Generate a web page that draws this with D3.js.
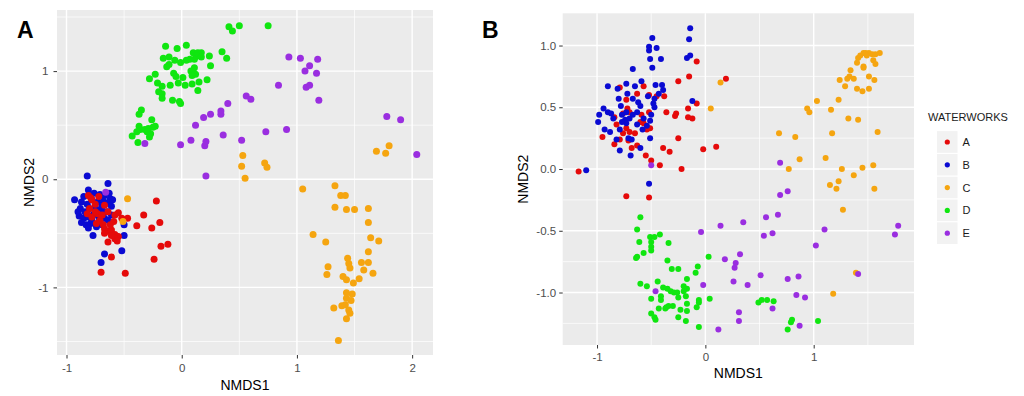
<!DOCTYPE html>
<html>
<head>
<meta charset="utf-8">
<title>NMDS by waterworks</title>
<script src="https://cdn.jsdelivr.net/npm/d3@7"></script>
<style>
  body { margin: 0; background: #fff; }
  svg { display: block; font-family: "Liberation Sans", Arial, sans-serif; }
  .tick text { fill: #4d4d4d; font-size: 11.5px; }
  .tick line { stroke: #333; }
  .domain { display: none; }
</style>
</head>
<body>
<svg id="chart" width="1024" height="396"></svg>
<script>
const waterworks = ["A", "B", "C", "D", "E"];
const colours = ["#e50a0a", "#0a0ad2", "#f5a510", "#10e610", "#9a2ee0"];

// panel A: [NMDS1, NMDS2] per waterworks
const aGroupA = [[-0.81,-0.15],[-0.78,-0.19],[-0.75,-0.23],[-0.80,-0.27],[-0.82,-0.32],[-0.78,-0.35],[-0.73,-0.32],[-0.71,-0.38],[-0.68,-0.42],[-0.67,-0.46],[-0.64,-0.48],[-0.61,-0.47],[-0.58,-0.51],[-0.55,-0.53],[-0.58,-0.55],[-0.56,-0.57],[-0.64,-0.58],[-0.62,-0.42],[-0.59,-0.39],[-0.55,-0.31],[-0.58,-0.33],[-0.64,-0.30],[-0.69,-0.33],[-0.75,-0.30],[-0.79,-0.17],[-0.72,-0.16],[-0.67,-0.24],[-0.74,-0.41],[-0.67,-0.50],[-0.61,-0.52],[-0.52,-0.36],[-0.47,-0.36],[-0.22,-0.20],[-0.33,-0.33],[-0.39,-0.43],[-0.26,-0.45],[-0.19,-0.40],[-0.18,-0.62],[-0.12,-0.60],[-0.24,-0.74],[-0.70,-0.86],[-0.49,-0.87],[-0.61,-0.72]];
const aGroupB = [[-0.82,0.03],[-0.64,-0.04],[-0.93,-0.19],[-0.50,-0.42],[-0.50,-0.52],[-0.52,-0.66],[-0.67,-0.69],[-0.70,-0.77],[-0.77,-0.52],[-0.81,-0.10],[-0.76,-0.13],[-0.71,-0.14],[-0.67,-0.15],[-0.62,-0.18],[-0.87,-0.21],[-0.82,-0.23],[-0.78,-0.19],[-0.73,-0.21],[-0.68,-0.20],[-0.64,-0.22],[-0.61,-0.25],[-0.88,-0.27],[-0.84,-0.30],[-0.80,-0.27],[-0.75,-0.26],[-0.70,-0.28],[-0.65,-0.30],[-0.61,-0.33],[-0.89,-0.34],[-0.85,-0.36],[-0.81,-0.35],[-0.77,-0.33],[-0.72,-0.35],[-0.67,-0.36],[-0.87,-0.40],[-0.83,-0.42],[-0.79,-0.41],[-0.74,-0.44],[-0.69,-0.42],[-0.64,-0.38],[-0.81,-0.45],[-0.85,-0.16],[-0.69,-0.25],[-0.78,-0.38],[-0.90,-0.30],[-0.63,-0.13],[-0.60,-0.19]];
const aGroupC = [[0.53,0.22],[0.52,0.12],[0.55,0.01],[0.72,0.15],[0.74,0.11],[1.69,0.26],[1.77,0.24],[1.80,0.31],[1.05,-0.09],[1.33,-0.06],[1.38,-0.15],[1.42,-0.15],[1.33,-0.26],[1.43,-0.28],[1.50,-0.28],[1.62,-0.27],[1.62,-0.40],[1.14,-0.51],[1.25,-0.58],[1.64,-0.54],[1.71,-0.57],[1.62,-0.67],[1.27,-0.81],[1.26,-0.88],[1.44,-0.73],[1.45,-0.78],[1.46,-0.82],[1.56,-0.77],[1.62,-0.77],[1.58,-0.84],[1.66,-0.87],[1.40,-0.90],[1.43,-0.93],[1.49,-0.96],[1.54,-0.92],[1.43,-1.05],[1.48,-1.06],[1.43,-1.10],[1.47,-1.12],[1.32,-1.19],[1.39,-1.17],[1.42,-1.16],[1.45,-1.21],[1.46,-1.24],[1.43,-1.29],[1.36,-1.49],[-0.47,-0.18],[-0.51,-0.39]];
const aGroupD = [[0.41,1.41],[0.44,1.37],[0.50,1.42],[0.75,1.42],[-0.14,1.23],[0.04,1.24],[-0.04,1.21],[0.10,1.17],[0.14,1.17],[0.17,1.17],[0.13,1.14],[0.17,1.13],[0.11,1.11],[0.07,1.11],[0.04,1.10],[-0.01,1.08],[-0.06,1.10],[-0.11,1.13],[-0.16,1.12],[0.24,1.14],[0.35,1.18],[0.39,1.12],[0.25,1.05],[0.11,1.03],[0.08,1.00],[-0.11,1.06],[-0.13,1.04],[-0.07,0.98],[-0.05,0.95],[0.01,0.94],[0.12,0.97],[0.09,0.96],[-0.23,0.97],[-0.28,0.93],[-0.21,0.89],[-0.10,0.87],[-0.03,0.89],[0.03,0.87],[0.09,0.88],[0.15,0.90],[0.22,0.92],[-0.17,0.86],[-0.20,0.81],[-0.17,0.79],[-0.17,0.75],[0.14,0.82],[-0.08,0.73],[-0.02,0.72],[-0.01,0.70],[-0.35,0.64],[-0.37,0.60],[-0.26,0.55],[-0.37,0.49],[-0.36,0.46],[-0.32,0.46],[-0.29,0.47],[-0.25,0.48],[-0.23,0.49],[-0.39,0.44],[-0.43,0.40],[-0.28,0.39],[-0.38,0.34],[-0.30,0.44],[-0.27,0.42]];
const aGroupE = [[-0.32,0.33],[-0.01,0.32],[0.08,0.36],[0.12,0.50],[0.19,0.57],[0.25,0.60],[0.20,0.31],[0.21,0.35],[0.34,0.63],[0.34,0.60],[0.36,0.41],[0.40,0.70],[0.52,0.36],[0.56,0.77],[0.60,0.74],[0.73,0.44],[0.84,0.87],[0.91,0.46],[0.93,1.13],[1.03,1.12],[1.07,1.00],[1.11,1.05],[1.18,1.11],[1.17,0.98],[1.08,0.85],[1.11,0.87],[1.19,0.73],[1.78,0.58],[1.90,0.55],[2.04,0.23],[0.21,0.03],[-0.66,-0.12]];

// panel B
const bGroupA = [[-0.08,0.87],[-0.15,0.75],[-0.25,0.71],[-0.57,0.67],[-0.79,0.66],[-0.63,0.61],[-0.52,0.60],[-0.45,0.59],[-0.38,0.59],[-0.84,0.42],[-0.76,0.45],[-0.72,0.49],[-0.73,0.56],[-0.59,0.44],[-0.52,0.46],[-0.57,0.37],[-0.60,0.38],[-0.51,0.33],[-0.54,0.32],[-0.73,0.33],[-0.76,0.29],[-0.70,0.30],[-0.82,0.36],[-0.79,0.24],[-0.71,0.23],[-0.95,0.26],[-0.84,0.20],[-0.63,0.19],[-0.68,0.17],[-0.55,0.11],[-0.50,0.07],[-0.42,0.03],[-0.39,0.17],[-0.33,0.14],[-0.25,0.25],[-0.36,0.46],[-0.28,0.43],[-0.27,0.45],[-0.16,0.42],[-0.12,0.41],[-0.08,0.53],[-0.16,0.49],[-0.02,0.16],[0.10,0.18],[-0.22,0.00],[-1.17,-0.02],[-0.73,-0.22],[-0.52,-0.23],[-0.70,0.46],[-0.65,0.29],[0.19,0.73]];
const bGroupB = [[-0.14,1.14],[-0.15,1.05],[-0.49,1.06],[-0.52,0.99],[-0.45,0.98],[-0.52,0.96],[-0.51,0.89],[-0.41,0.89],[-0.49,0.82],[-0.17,0.90],[-0.14,0.92],[-0.67,0.81],[-0.90,0.67],[-0.81,0.65],[-0.73,0.69],[-0.65,0.67],[-0.59,0.71],[-0.46,0.68],[-0.40,0.68],[-0.39,0.64],[-0.80,0.57],[-0.72,0.61],[-0.67,0.57],[-0.62,0.54],[-0.53,0.59],[-0.47,0.57],[-0.43,0.61],[-0.48,0.53],[-0.47,0.50],[-0.78,0.51],[-0.94,0.49],[-0.90,0.46],[-0.87,0.45],[-0.98,0.44],[-0.99,0.38],[-0.85,0.41],[-0.77,0.44],[-0.74,0.40],[-0.73,0.37],[-0.70,0.41],[-0.63,0.36],[-0.58,0.32],[-0.54,0.35],[-0.51,0.39],[-0.50,0.44],[-0.57,0.41],[-0.93,0.32],[-0.88,0.30],[-0.79,0.32],[-0.82,0.24],[-0.71,0.25],[-0.68,0.24],[-0.51,0.25],[-0.79,0.15],[-0.60,0.17],[-0.69,0.11],[-0.12,0.55],[-1.10,-0.01],[-0.52,-0.12],[-0.73,0.46],[-0.77,0.38],[-0.63,0.46],[-0.60,0.51],[-0.67,0.44]];
const bGroupC = [[1.41,0.90],[1.43,0.92],[1.46,0.94],[1.48,0.94],[1.51,0.94],[1.54,0.93],[1.57,0.93],[1.61,0.94],[1.55,0.88],[1.57,0.85],[1.46,0.83],[1.46,0.82],[1.34,0.80],[1.33,0.75],[1.31,0.73],[1.37,0.73],[1.24,0.72],[1.29,0.67],[1.51,0.75],[1.56,0.72],[1.40,0.65],[1.45,0.63],[1.51,0.65],[1.03,0.55],[1.23,0.56],[0.94,0.49],[0.96,0.46],[1.16,0.48],[1.32,0.41],[1.41,0.40],[0.68,0.29],[0.83,0.26],[1.17,0.29],[1.59,0.30],[0.87,0.08],[1.11,0.09],[0.77,0.00],[1.26,0.00],[1.45,0.01],[1.55,0.03],[1.37,-0.05],[1.15,-0.13],[1.23,-0.10],[1.21,-0.16],[1.56,-0.16],[1.27,-0.33],[1.39,-0.84],[1.18,-1.01],[0.05,0.49],[0.14,0.70],[1.40,0.86],[1.49,0.92]];
const bGroupD = [[-0.60,-0.39],[-0.63,-0.49],[-0.61,-0.59],[-0.64,-0.72],[-0.63,-0.71],[-0.57,-0.68],[-0.51,-0.55],[-0.47,-0.55],[-0.42,-0.53],[-0.50,-0.59],[-0.50,-0.63],[-0.50,-0.66],[-0.34,-0.60],[-0.35,-0.74],[-0.31,-0.81],[-0.25,-0.81],[-0.07,-0.79],[-0.09,-0.84],[0.03,-0.71],[-0.17,-0.89],[-0.44,-0.91],[-0.60,-0.93],[-0.54,-0.95],[-0.39,-0.96],[-0.35,-0.97],[-0.29,-1.00],[-0.32,-0.99],[-0.26,-1.00],[-0.25,-1.04],[-0.20,-0.95],[-0.17,-0.97],[-0.20,-0.99],[-0.18,-1.03],[-0.50,-1.05],[-0.41,-1.03],[-0.41,-1.06],[-0.17,-1.09],[-0.06,-1.06],[-0.06,-1.08],[0.04,-1.05],[-0.08,-1.12],[-0.43,-1.13],[-0.37,-1.13],[-0.34,-1.11],[-0.30,-1.11],[-0.23,-1.14],[-0.17,-1.15],[-0.50,-1.17],[-0.47,-1.20],[-0.46,-1.22],[-0.25,-1.20],[-0.18,-1.23],[-0.06,-1.28],[0.49,-1.08],[0.52,-1.06],[0.57,-1.06],[0.63,-1.07],[0.80,-1.22],[0.79,-1.24],[0.76,-1.30],[1.04,-1.23],[-0.36,-1.12]];
const bGroupE = [[-0.04,-0.51],[0.14,-0.46],[0.35,-0.43],[0.56,-0.39],[0.67,-0.37],[0.54,-0.54],[0.62,-0.52],[1.02,-0.62],[0.18,-0.73],[0.32,-0.69],[0.28,-0.76],[0.27,-0.80],[0.51,-0.86],[0.26,-0.91],[0.39,-0.94],[0.76,-0.89],[0.86,-0.87],[-0.02,-0.94],[-0.46,-0.99],[0.84,-1.02],[0.92,-1.04],[0.62,-1.13],[0.31,-1.16],[0.31,-1.23],[0.12,-1.30],[0.87,-1.27],[0.69,0.05],[0.69,-0.21],[0.76,-0.18],[1.10,-0.49],[1.78,-0.46],[1.75,-0.53],[1.41,-0.85],[-0.50,0.03]];

const aXTicks = [-1, 0, 1, 2];
const aYTicks = [-1, 0, 1];
const bXTicks = [-1, 0, 1];
const bYTicks = [-1, -0.5, 0, 0.5, 1];

const svg = d3.select("#chart");

function drawPanel(p) {
  const x = d3.scaleLinear().domain(p.xDomain).range([p.left, p.right]);
  const y = d3.scaleLinear().domain(p.yDomain).range([p.bottom, p.top]);
  const g = svg.append("g");

  g.append("rect")
    .attr("x", p.left).attr("y", p.top)
    .attr("width", p.right - p.left).attr("height", p.bottom - p.top)
    .attr("fill", "#ebebeb");

  // grid: minor then major
  g.selectAll(".xminor").data(p.xMinor).join("line")
    .attr("x1", d => x(d)).attr("x2", d => x(d))
    .attr("y1", p.top).attr("y2", p.bottom)
    .attr("stroke", "#fff").attr("stroke-width", 0.7);
  g.selectAll(".yminor").data(p.yMinor).join("line")
    .attr("y1", d => y(d)).attr("y2", d => y(d))
    .attr("x1", p.left).attr("x2", p.right)
    .attr("stroke", "#fff").attr("stroke-width", 0.7);
  g.selectAll(".xmajor").data(p.xTicks).join("line")
    .attr("x1", d => x(d)).attr("x2", d => x(d))
    .attr("y1", p.top).attr("y2", p.bottom)
    .attr("stroke", "#fff").attr("stroke-width", 1.4);
  g.selectAll(".ymajor").data(p.yTicks).join("line")
    .attr("y1", d => y(d)).attr("y2", d => y(d))
    .attr("x1", p.left).attr("x2", p.right)
    .attr("stroke", "#fff").attr("stroke-width", 1.4);

  p.order.forEach(i => {
    g.append("g").selectAll("circle").data(p.groups[i]).join("circle")
      .attr("cx", d => x(d[0]))
      .attr("cy", d => y(d[1]))
      .attr("r", p.r)
      .attr("fill", colours[i]);
  });

  g.append("g")
    .attr("transform", `translate(0,${p.bottom})`)
    .call(d3.axisBottom(x).tickValues(p.xTicks).tickSize(3.5)
      .tickPadding(p.xPad).tickFormat(p.fmtX));
  g.append("g")
    .attr("transform", `translate(${p.left},0)`)
    .call(d3.axisLeft(y).tickValues(p.yTicks).tickSize(3.5)
      .tickPadding(p.yPad).tickFormat(p.fmtY));

  g.append("text")
    .attr("x", (p.left + p.right) / 2).attr("y", p.xTitleY)
    .attr("text-anchor", "middle").attr("font-size", 14)
    .text("NMDS1");
  g.append("text")
    .attr("transform", `translate(${p.yTitleX},${(p.top + p.bottom) / 2}) rotate(-90)`)
    .attr("text-anchor", "middle").attr("font-size", 14)
    .text("NMDS2");

  g.append("text")
    .attr("x", p.tagX).attr("y", 38)
    .attr("font-size", 23).attr("font-weight", "bold")
    .text(p.tag);
}

drawPanel({
  tag: "A", tagX: 17,
  groups: [aGroupA, aGroupB, aGroupC, aGroupD, aGroupE],
  order: [1, 0, 2, 3, 4],
  left: 57, right: 433, top: 10, bottom: 355,
  xDomain: [-1.0825, 2.181], yDomain: [-1.625, 1.565],
  xTicks: aXTicks, yTicks: aYTicks,
  xMinor: [-0.5, 0.5, 1.5], yMinor: [-1.5, -0.5, 0.5, 1.5],
  fmtX: d => String(d), fmtY: d => String(d),
  xPad: 5, yPad: 5, r: 3.5,
  xTitleY: 390, yTitleX: 34
});

drawPanel({
  tag: "B", tagX: 482,
  groups: [bGroupA, bGroupB, bGroupC, bGroupD, bGroupE],
  order: [0, 1, 2, 3, 4],
  left: 562.7, right: 914, top: 13.3, bottom: 345,
  xDomain: [-1.317, 1.926], yDomain: [-1.425, 1.261],
  xTicks: bXTicks, yTicks: bYTicks,
  xMinor: [-0.5, 0.5, 1.5], yMinor: [-1.25, -0.75, -0.25, 0.25, 0.75],
  fmtX: d => String(d), fmtY: d => d.toFixed(1),
  xPad: 4, yPad: 3, r: 3,
  xTitleY: 378, yTitleX: 528
});

// legend
const legend = svg.append("g").attr("transform", "translate(928,0)");
legend.append("text")
  .attr("x", 0).attr("y", 121)
  .attr("font-size", 11).attr("fill", "#1a1a1a")
  .text("WATERWORKS");
const keyH = 22.8;
const keys = legend.selectAll(".key").data(waterworks).join("g")
  .attr("transform", (d, i) => `translate(8.5,${130.6 + i * keyH})`);
keys.append("rect")
  .attr("width", 21.5).attr("height", keyH)
  .attr("fill", "#f2f2f2").attr("stroke", "#fff");
keys.append("circle")
  .attr("cx", 10.8).attr("cy", keyH / 2).attr("r", 2.6)
  .attr("fill", (d, i) => colours[i]);
keys.append("text")
  .attr("x", 26).attr("y", keyH / 2 + 4)
  .attr("font-size", 11).attr("fill", "#1a1a1a")
  .text(d => d);
</script>
</body>
</html>
